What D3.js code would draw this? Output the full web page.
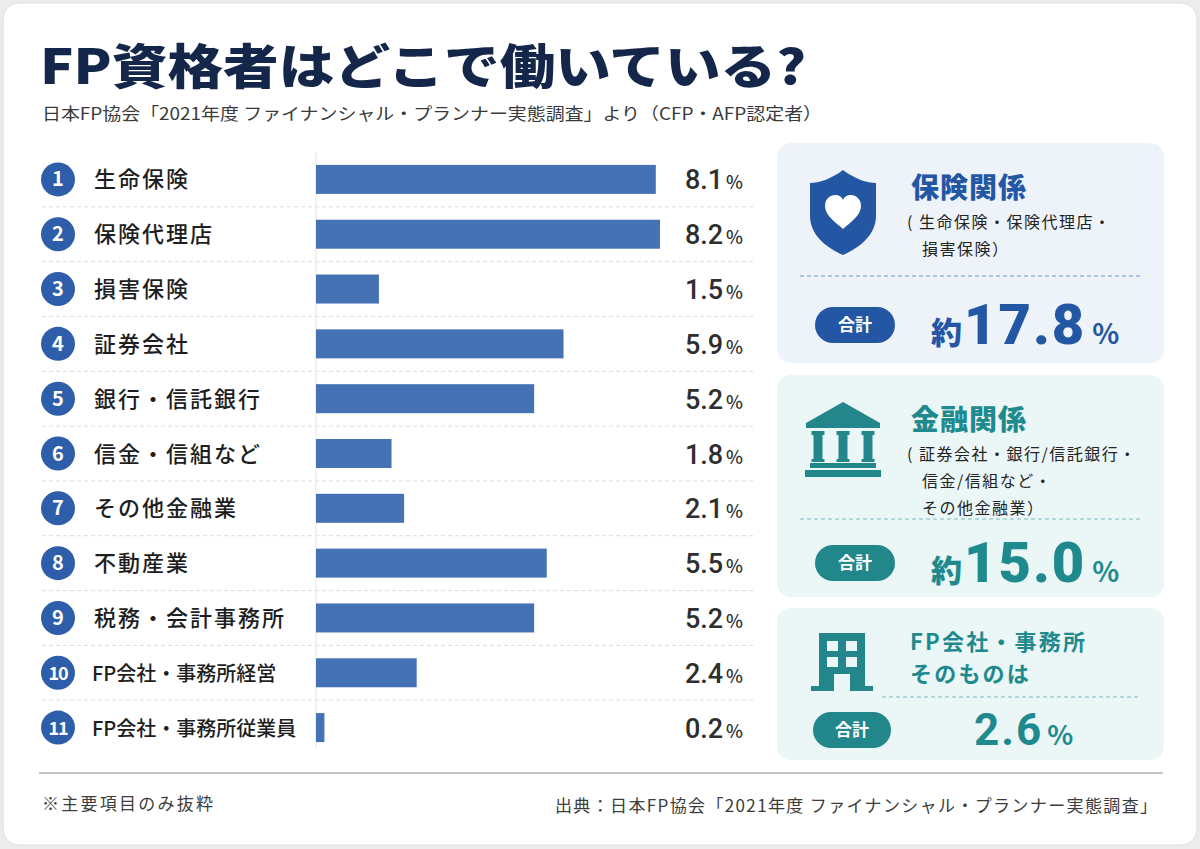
<!DOCTYPE html>
<html><head><meta charset="utf-8">
<script src="https://cdn.jsdelivr.net/npm/d3@7"></script>
<style>
html,body{margin:0;padding:0;background:#ececec;}
svg{display:block;}
text{font-family:"Noto Sans CJK JP","Noto Sans",sans-serif;}
</style></head><body>
<svg id="c" width="1200" height="849"></svg>
<script>
// ---- data ----
const categories = ["生命保険","保険代理店","損害保険","証券会社","銀行・信託銀行","信金・信組など","その他金融業","不動産業","税務・会計事務所","FP会社・事務所経営","FP会社・事務所従業員"];
const values = [8.1, 8.2, 1.5, 5.9, 5.2, 1.8, 2.1, 5.5, 5.2, 2.4, 0.2];
const groupTitles = ["保険関係","金融関係","FP会社・事務所そのものは"];
const groupNotes = [["( 生命保険・保険代理店・","損害保険）"],["( 証券会社・銀行/信託銀行・","信金/信組など・","その他金融業）"],[]];
const groupTotals = [17.8, 15.0, 2.6];
const titleText = "FP資格者はどこで働いている?";
const subtitleText = "日本FP協会「2021年度 ファイナンシャル・プランナー実態調査」より（CFP・AFP認定者）";
const noteText = "※主要項目のみ抜粋";
const sourceText = "出典：日本FP協会「2021年度 ファイナンシャル・プランナー実態調査」";

const svg = d3.select("#c");
svg.append("rect").attr("x",3).attr("y",3).attr("width",1194).attr("height",842).attr("rx",16)
  .attr("fill","#ffffff").attr("stroke","#dedede");

svg.append("text").attr("x",40).attr("y",84).attr("font-size",48).attr("font-weight",900)
  .attr("fill","#14264a").attr("textLength",766).attr("lengthAdjust","spacingAndGlyphs").text(titleText);
svg.append("text").attr("x",42).attr("y",120).attr("font-size",17).attr("fill","#3a3a3a")
  .attr("textLength",780).attr("lengthAdjust","spacingAndGlyphs").text(subtitleText);

// ---- bar chart ----
const y = d3.scaleBand().domain(d3.range(categories.length)).range([152, 755]).paddingInner(0).paddingOuter(0);
const x = d3.scaleLinear().domain([0, 8.2]).range([316, 660]);
const bw = y.bandwidth();

const g = svg.append("g");
g.selectAll("line.sep").data(d3.range(1, categories.length)).join("line")
  .attr("x1",42).attr("x2",756).attr("y1",d=>y(d)).attr("y2",d=>y(d))
  .attr("stroke","#dcdcdc").attr("stroke-dasharray","4,3");
g.append("line").attr("x1",316).attr("x2",316).attr("y1",152).attr("y2",748).attr("stroke","#e3e3e3");

const rows = g.selectAll("g.row").data(categories).join("g").attr("transform",(d,i)=>`translate(0,${y(i)+bw/2})`);
rows.append("circle").attr("cx",58).attr("cy",0).attr("r",17).attr("fill","#2e5ea9");
rows.append("text").attr("x",58).attr("y",7).attr("text-anchor","middle").attr("font-size",(d,i)=>i>=9?18:20)
  .attr("font-weight",700).attr("fill","#fff").attr("font-family","Roboto, sans-serif")
  .attr("letter-spacing",(d,i)=>i>=9?-1:0).text((d,i)=>i+1);
rows.append("text").attr("x",(d,i)=>i>=9?92:94).attr("y",8).attr("font-size",(d,i)=>i>=9?20:22).attr("font-weight",500)
  .attr("fill","#1e1e1e").attr("letter-spacing",(d,i)=>i>=9?0:2).text(d=>d);
rows.append("rect").attr("x",x(0)).attr("y",-14.5).attr("height",29)
  .attr("width",(d,i)=>x(values[i])-x(0)).attr("fill","#4571b5");
const vt = rows.append("text").attr("x",743).attr("y",10).attr("text-anchor","end").attr("fill","#2e2e2e");
vt.append("tspan").attr("font-size",27).attr("font-weight",500).attr("font-family","Roboto, sans-serif").text((d,i)=>values[i].toFixed(1));
vt.append("tspan").attr("font-size",18).attr("dx",3).attr("font-weight",500).text("%");

// ---- right panels ----
const panels = [
  {y:143,h:220,bg:"#eef2f9",col:"#2457a3",pill:"#2457a3",dash:"#6f93c9"},
  {y:375,h:222,bg:"#ebf6f7",col:"#1f8a8e",pill:"#22878b",dash:"#7ab9bd"},
  {y:608,h:152,bg:"#ebf6f7",col:"#1f8a8e",pill:"#22878b",dash:"#7ab9bd"}
];
const px = 777, pw = 387;
panels.forEach((p,i)=>{
  const pg = svg.append("g");
  pg.append("rect").attr("x",px).attr("y",p.y).attr("width",pw).attr("height",p.h).attr("rx",14).attr("fill",p.bg);
  if(i<2){
    pg.append("text").attr("x",911).attr("y",p.y+55).attr("font-size",28).attr("font-weight",900).attr("fill",p.col)
      .attr("letter-spacing",1).text(groupTitles[i]);
    groupNotes[i].forEach((t,j)=>{
      pg.append("text").attr("x",j===0?907:922).attr("y",p.y+85+j*27).attr("font-size",16).attr("fill","#222")
        .attr("letter-spacing",1.5).text(t);
    });
    const dy = i===0?133:144;
    pg.append("line").attr("x1",800).attr("x2",1142).attr("y1",p.y+dy).attr("y2",p.y+dy)
      .attr("stroke",p.dash).attr("stroke-dasharray","4,3");
    const cy = i===0?p.y+182:p.y+188;
    pg.append("rect").attr("x",815).attr("y",cy-18).attr("width",80).attr("height",36).attr("rx",18).attr("fill",p.pill);
    pg.append("text").attr("x",855).attr("y",cy+6).attr("text-anchor","middle").attr("font-size",17).attr("font-weight",700)
      .attr("fill","#fff").text("合計");
    const tt = pg.append("text").attr("x",931).attr("y",cy+19).attr("fill",p.col);
    tt.append("tspan").attr("font-size",31).attr("font-weight",900).text("約");
    tt.append("tspan").attr("font-size",56).attr("font-weight",900).attr("font-family","Roboto, sans-serif").attr("letter-spacing",2).attr("dx",2)
      .text(groupTotals[i].toFixed(1));
    tt.append("tspan").attr("font-size",28).attr("font-weight",700).attr("dx",6).text("%");
  } else {
    ["FP会社・事務所","そのものは"].forEach((t,j)=>pg.append("text").attr("x",910).attr("y",p.y+42+j*32)
      .attr("font-size",22).attr("font-weight",700).attr("fill",p.col).attr("letter-spacing",2.2).text(t));
    pg.append("line").attr("x1",882).attr("x2",1141).attr("y1",p.y+89).attr("y2",p.y+89)
      .attr("stroke",p.dash).attr("stroke-dasharray","4,3");
    const cy = p.y+122;
    pg.append("rect").attr("x",813).attr("y",cy-18).attr("width",78).attr("height",36).attr("rx",18).attr("fill",p.pill);
    pg.append("text").attr("x",852).attr("y",cy+6).attr("text-anchor","middle").attr("font-size",17).attr("font-weight",700)
      .attr("fill","#fff").text("合計");
    const tt = pg.append("text").attr("x",974).attr("y",cy+15).attr("fill",p.col);
    tt.append("tspan").attr("font-size",44).attr("font-weight",700).attr("font-family","Roboto, sans-serif").attr("letter-spacing",2)
      .text(groupTotals[i].toFixed(1));
    tt.append("tspan").attr("font-size",27).attr("font-weight",700).attr("dx",4).text("%");
  }
});

// icons
const sh = svg.append("g").attr("transform","translate(843,212)");
sh.append("path").attr("d","M0,-42 C12,-33 24,-29 33,-29 L33,4 C33,22 18,35 0,43 C-18,35 -33,22 -33,4 L-33,-29 C-24,-29 -12,-33 0,-42 Z")
  .attr("fill","#2457a3");
sh.append("path").attr("d","M0,17 C-8,10 -18,3 -18,-6 C-18,-13 -13,-17 -8,-17 C-4,-17 -1,-15 0,-12 C1,-15 4,-17 8,-17 C13,-17 18,-13 18,-6 C18,3 8,10 0,17 Z")
  .attr("fill","#ffffff");
const bk = svg.append("g").attr("transform","translate(843,440)").attr("fill","#23868a");
bk.append("path").attr("d","M0,-38 L37,-17 L-37,-17 Z");
bk.append("rect").attr("x",-37).attr("y",-17).attr("width",74).attr("height",5);
[-25,0,25].forEach(cx=>{
  bk.append("rect").attr("x",cx-6.5).attr("y",-9).attr("width",13).attr("height",4);
  bk.append("rect").attr("x",cx-4.5).attr("y",-6).attr("width",9).attr("height",27);
  bk.append("rect").attr("x",cx-6.5).attr("y",19).attr("width",13).attr("height",3);
});
bk.append("rect").attr("x",-33).attr("y",23).attr("width",66).attr("height",5);
bk.append("rect").attr("x",-38).attr("y",30).attr("width",76).attr("height",7);
const bd = svg.append("g").attr("transform","translate(842,662)");
bd.append("path").attr("fill","#23868a").attr("fill-rule","evenodd").attr("d",
  "M-23,-29 L23,-29 L23,24 L31,24 L31,29 L8,29 L8,12 L-8,12 L-8,29 L-31,29 L-31,24 L-23,24 Z " +
  "M-15,-21 L-4,-21 L-4,-11 L-15,-11 Z M4,-21 L15,-21 L15,-11 L4,-11 Z " +
  "M-15,-5 L-4,-5 L-4,5 L-15,5 Z M4,-5 L15,-5 L15,5 L4,5 Z");

// footer
svg.append("line").attr("x1",39).attr("x2",1163).attr("y1",773).attr("y2",773).attr("stroke","#8a8a8a").attr("stroke-width",1.2);
svg.append("text").attr("x",42).attr("y",810).attr("font-size",17).attr("fill","#3c3c3c")
  .attr("textLength",171).attr("lengthAdjust","spacing").text(noteText);
svg.append("text").attr("x",555).attr("y",812).attr("font-size",17).attr("fill","#3c3c3c")
  .attr("textLength",602).attr("lengthAdjust","spacing").text(sourceText);
</script>
</body></html>
